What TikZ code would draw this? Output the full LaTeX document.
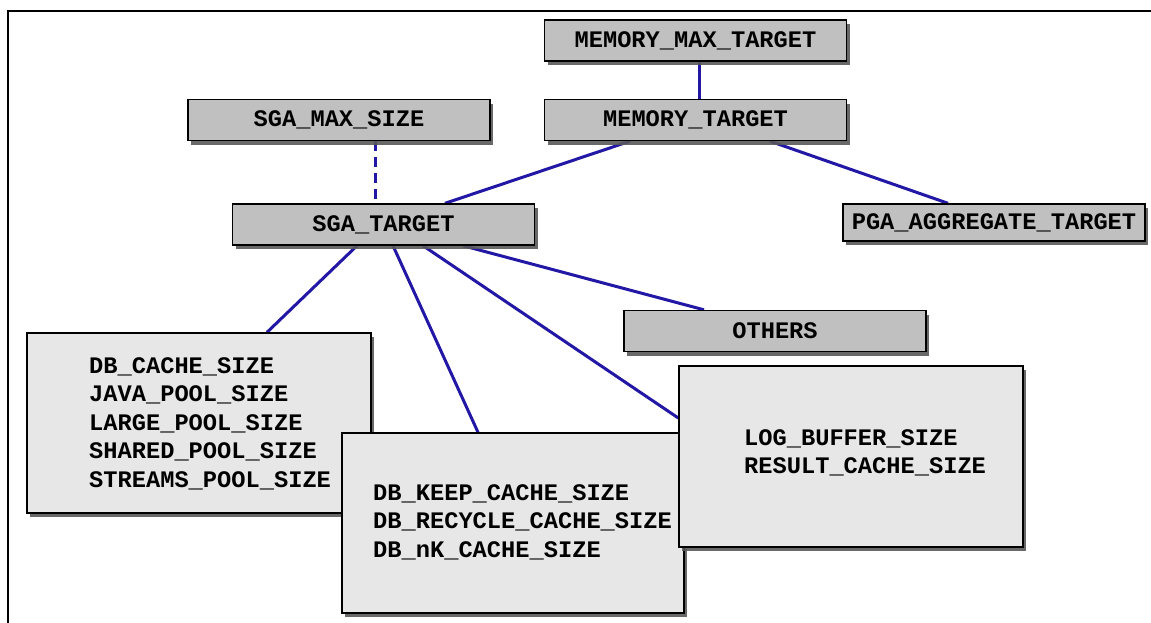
\documentclass[tikz,border=0pt]{standalone}
\usepackage{fontspec}
\setmonofont{Liberation Mono}
\usetikzlibrary{shadows,backgrounds,calc}
\definecolor{linkblue}{RGB}{34,24,165}
\definecolor{hdrgray}{RGB}{192,192,192}
\definecolor{boxgray}{RGB}{231,231,231}
\tikzset{
  boxbase/.style={draw=black, line width=1.4pt, inner sep=0pt,
    drop shadow={shadow xshift=3pt, shadow yshift=-4pt, fill=black!65, opacity=0.9}},
  hdr/.style={boxbase, fill=hdrgray, minimum width=302pt, minimum height=41pt,
    font=\fontsize{23.7}{28}\selectfont\ttfamily\bfseries},
  panel/.style={boxbase, fill=boxgray},
  item/.style={anchor=base west, inner sep=0pt,
    font=\fontsize{23.7}{28}\selectfont\ttfamily\bfseries},
  conn/.style={draw=linkblue, line width=3pt},
  connd/.style={conn, dash pattern=on 10pt off 6pt},
  frame/.style={draw=black, line width=2.2pt}
}
\begin{document}
\begin{tikzpicture}[x=1pt, y=-1pt]
\useasboundingbox (0,0) rectangle (1151,622);

% outer frame (top and left edges)
\coordinate (fbl) at (8,623);
\coordinate (ftl) at (8,11);
\coordinate (ftr) at (1152,11);
\draw[frame] (fbl) -- (ftl) -- (ftr);

% parameter header boxes
\node[hdr] (mmt) at (695.5,40.5) {MEMORY\_MAX\_TARGET};
\node[hdr] (mt)  at (695.5,120) {MEMORY\_TARGET};
\node[hdr] (sms) at (339,120) {SGA\_MAX\_SIZE};
\node[hdr] (sga) at (383.5,224.5) {SGA\_TARGET};
\node[hdr, minimum height=37pt] (pga) at (994,222.5) {PGA\_AGGREGATE\_TARGET};
\node[hdr] (oth) at (775,331) {OTHERS};

% component panels
\node[panel, minimum width=344pt, minimum height=180pt] (dbc) at (199,423) {};
\node[item] (dbc1) at (89,373) {DB\_CACHE\_SIZE};
\node[item] (dbc2) at (89,401.5) {JAVA\_POOL\_SIZE};
\node[item] (dbc3) at (89,430) {LARGE\_POOL\_SIZE};
\node[item] (dbc4) at (89,458.5) {SHARED\_POOL\_SIZE};
\node[item] (dbc5) at (89,487) {STREAMS\_POOL\_SIZE};

\node[panel, minimum width=342pt, minimum height=180pt] (dbk) at (513,523) {};
\node[item] (dbk1) at (373,500) {DB\_KEEP\_CACHE\_SIZE};
\node[item] (dbk2) at (373,528.5) {DB\_RECYCLE\_CACHE\_SIZE};
\node[item] (dbk3) at (373,557) {DB\_nK\_CACHE\_SIZE};

\node[panel, minimum width=344pt, minimum height=181pt] (log) at (851,456.5) {};
\node[item] (log1) at (744,445) {LOG\_BUFFER\_SIZE};
\node[item] (log2) at (744,473) {RESULT\_CACHE\_SIZE};

% connectors, kept beneath the boxes
\begin{scope}[on background layer]
\fill[white] (0,0) rectangle (1151,622);
\draw[conn] ([xshift=3.5pt]mmt.south) -- ([xshift=3.5pt]mt.north);
\draw[connd] ([xshift=36pt]sms.south) -- ([xshift=-8.5pt]sga.north);
\draw[conn] ([xshift=-65.5pt]mt.south) -- ([xshift=61.5pt]sga.north);
\draw[conn] ([xshift=74.5pt]mt.south) -- ([xshift=-46pt]pga.north);
\draw[conn] ([xshift=-26.5pt]sga.south) -- ([xshift=68pt]dbc.north);
\draw[conn] ([xshift=9.5pt]sga.south) -- ([xshift=-35pt]dbk.north);
\draw[conn] ([xshift=39.5pt]sga.south) -- ([yshift=38.5pt]log.west);
\draw[conn] ([xshift=79.5pt]sga.south) -- ([xshift=-71pt]oth.north);
\end{scope}
\end{tikzpicture}
\end{document}
